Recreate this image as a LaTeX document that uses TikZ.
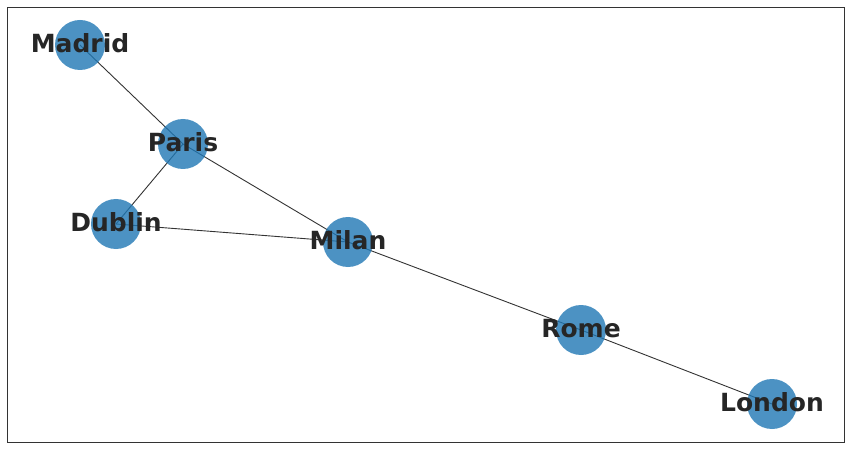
\documentclass[tikz,border=0pt]{standalone}
\usepackage{fontspec}
\setmainfont{DejaVu Sans}
\usetikzlibrary{positioning, backgrounds}
\definecolor{nodeblue}{HTML}{1F77B4}
\definecolor{labelgray}{HTML}{262626}
\definecolor{edgegray}{HTML}{333333}

\begin{document}
\begin{tikzpicture}[
        x=1pt, y=-1pt,
        font=\fontsize{25}{30}\selectfont\bfseries,
        city/.style={
            circle,
            fill=nodeblue,
            fill opacity=0.8,
            minimum size=50pt,
            inner sep=0pt
        },
        cityname/.style={text=labelgray, inner sep=0pt, yshift=1.5pt},
        edge/.style={draw=edgegray, line width=0.9pt}
    ]

    % Frame
    \useasboundingbox (0,0) rectangle (851,449);
    \draw[line width=0.8pt, draw=edgegray] (7,7) rectangle (844,442);

    % Nodes
    \node[city] (madrid) at (80,45) {};
    \node[city] (paris) at (183,144) {};
    \node[city] (dublin) at (116,224) {};
    \node[city] (milan) at (348,242) {};
    \node[city] (rome) at (581,330) {};
    \node[city] (london) at (772,404) {};

    % Labels
    \foreach \n/\t in {madrid/Madrid, paris/Paris, dublin/Dublin,
                       milan/Milan, rome/Rome, london/London}
        \node[cityname] (\n-label) at (\n) {\t};

    % Edges
    \begin{scope}[on background layer]
        \draw[edge] (madrid.center) -- (paris.center);
        \draw[edge] (paris.center) -- (dublin.center);
        \draw[edge] (paris.center) -- (milan.center);
        \draw[edge] (dublin.center) -- (milan.center);
        \draw[edge] (milan.center) -- (rome.center);
        \draw[edge] (rome.center) -- (london.center);
    \end{scope}

    \end{tikzpicture}
\end{document}
